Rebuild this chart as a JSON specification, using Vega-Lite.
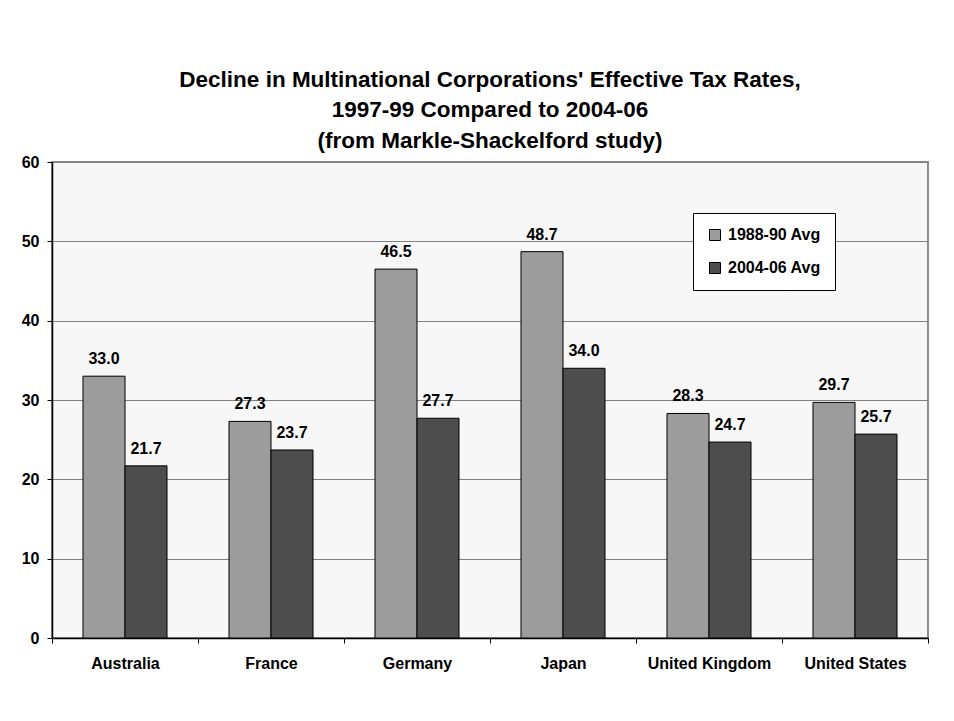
{
  "$schema": "https://vega.github.io/schema/vega-lite/v6.json",
  "autosize": {"type": "none"},
  "width": 876,
  "height": 476,
  "padding": {"left": 52, "top": 162, "right": 26, "bottom": 83},
  "background": "white",
  "title": {
    "text": ["Decline in Multinational Corporations' Effective Tax Rates,", "1997-99 Compared to 2004-06", "(from Markle-Shackelford study)"],
    "font": "Liberation Sans",
    "fontSize": 22.5,
    "fontWeight": "bold",
    "color": "black",
    "lineHeight": 30.5,
    "anchor": "middle",
    "offset": 2
  },
  "config": {
    "view": {"fill": "#f7f7f7", "stroke": "#8c8c8c", "strokeWidth": 2},
    "font": "Liberation Sans"
  },
  "data": {
    "values": [
      {"country": "Australia", "series": "1988-90 Avg", "rate": 33.0},
      {"country": "Australia", "series": "2004-06 Avg", "rate": 21.7},
      {"country": "France", "series": "1988-90 Avg", "rate": 27.3},
      {"country": "France", "series": "2004-06 Avg", "rate": 23.7},
      {"country": "Germany", "series": "1988-90 Avg", "rate": 46.5},
      {"country": "Germany", "series": "2004-06 Avg", "rate": 27.7},
      {"country": "Japan", "series": "1988-90 Avg", "rate": 48.7},
      {"country": "Japan", "series": "2004-06 Avg", "rate": 34.0},
      {"country": "United Kingdom", "series": "1988-90 Avg", "rate": 28.3},
      {"country": "United Kingdom", "series": "2004-06 Avg", "rate": 24.7},
      {"country": "United States", "series": "1988-90 Avg", "rate": 29.7},
      {"country": "United States", "series": "2004-06 Avg", "rate": 25.7}
    ]
  },
  "encoding": {
    "x": {
      "field": "country",
      "type": "nominal",
      "sort": null,
      "scale": {"paddingInner": 0, "paddingOuter": 0},
      "axis": {
        "title": null,
        "labelAngle": 0,
        "labelFont": "Liberation Sans",
        "labelFontSize": 16,
        "labelFontWeight": "bold",
        "labelColor": "black",
        "labelPadding": 12,
        "tickBand": "extent",
        "tickColor": "black",
        "tickSize": 5,
        "domainColor": "black",
        "domainWidth": 1.5,
        "grid": false
      }
    },
    "xOffset": {
      "field": "series",
      "type": "nominal",
      "scale": {"paddingInner": 0, "paddingOuter": 0.738}
    },
    "y": {
      "field": "rate",
      "type": "quantitative",
      "scale": {"domain": [0, 60], "nice": false},
      "axis": {
        "title": null,
        "values": [0, 10, 20, 30, 40, 50, 60],
        "labelFont": "Liberation Sans",
        "labelFontSize": 16,
        "labelFontWeight": "bold",
        "labelColor": "black",
        "labelPadding": 8,
        "tickColor": "black",
        "tickSize": 5,
        "domainColor": "black",
        "domainWidth": 1.5,
        "grid": true,
        "gridColor": "#808080",
        "gridWidth": 1
      }
    }
  },
  "layer": [
    {
      "mark": {"type": "bar", "stroke": "black", "strokeWidth": 1},
      "encoding": {
        "color": {
          "field": "series",
          "type": "nominal",
          "scale": {"domain": ["1988-90 Avg", "2004-06 Avg"], "range": ["#9c9c9c", "#4d4d4d"]},
          "legend": {
            "title": null,
            "orient": "none",
            "legendX": 641,
            "legendY": 51,
            "fillColor": "white",
            "strokeColor": "black",
            "padding": 14,
            "symbolType": "square",
            "symbolSize": 121,
            "symbolStrokeColor": "black",
            "symbolStrokeWidth": 1,
            "labelFont": "Liberation Sans",
            "labelFontSize": 16,
            "labelFontWeight": "bold",
            "labelColor": "black",
            "labelOffset": 5,
            "rowPadding": 17
          }
        }
      }
    },
    {
      "mark": {
        "type": "text",
        "baseline": "bottom",
        "dy": -9,
        "font": "Liberation Sans",
        "fontSize": 16,
        "fontWeight": "bold",
        "color": "black"
      },
      "encoding": {
        "text": {"field": "rate", "type": "quantitative", "format": ".1f"}
      }
    }
  ]
}
